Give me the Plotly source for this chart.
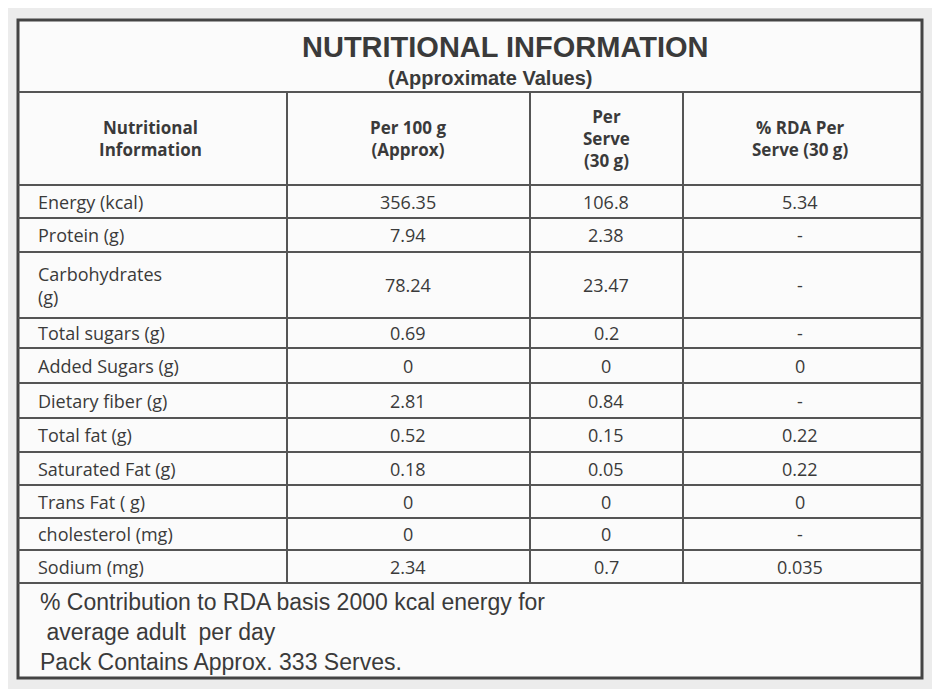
import plotly.graph_objects as go

nutrients = ["Energy (kcal)", "Protein (g)", "Carbohydrates<br>(g)", "Total sugars (g)", "Added Sugars (g)",
             "Dietary fiber (g)", "Total fat (g)", "Saturated Fat (g)", "Trans Fat ( g)", "cholesterol (mg)", "Sodium (mg)"]
per100 = ["356.35", "7.94", "78.24", "0.69", "0", "2.81", "0.52", "0.18", "0", "0", "2.34"]
perserve = ["106.8", "2.38", "23.47", "0.2", "0", "0.84", "0.15", "0.05", "0", "0", "0.7"]
rda = ["5.34", "-", "-", "-", "0", "-", "0.22", "0.22", "0", "-", "0.035"]
headers = ["Nutritional<br>Information", "Per 100 g<br>(Approx)", "Per<br>Serve<br>(30 g)", "% RDA Per<br>Serve (30 g)"]
footer = ["% Contribution to RDA basis 2000 kcal energy for", " average adult  per day", "Pack Contains Approx. 333 Serves."]

L, R, T, B = 18, 922, 20, 678
title_b, head_b = 92, 185
row_b = [218, 252, 318, 348, 383, 418, 452, 485, 518, 550, 583]
col_x = [287, 530, 683]
col_c = [150, 408, 606, 800]
ink = "#3a3a3a"

fig = go.Figure()
shapes = [dict(type="rect", x0=L, x1=R, y0=T, y1=B, line=dict(color="#444", width=3), fillcolor="#fbfbfb", layer="below")]
for y in [title_b, head_b] + row_b:
    shapes.append(dict(type="line", x0=L, x1=R, y0=y, y1=y, line=dict(color="#555", width=2)))
for x in col_x:
    shapes.append(dict(type="line", x0=x, x1=x, y0=title_b, y1=row_b[-1], line=dict(color="#555", width=2)))

ann = [dict(x=505, y=47, text="<b>NUTRITIONAL INFORMATION</b>", font=dict(size=29, color=ink, family="Liberation Sans")),
       dict(x=490, y=78, text="<b>(Approximate Values)</b>", font=dict(size=20, color=ink, family="Liberation Sans"))]
for c, h in zip(col_c, headers):
    ann.append(dict(x=c, y=(title_b + head_b) / 2, text="<b>" + h.replace("<br>", "</b><br><b>") + "</b>",
                    font=dict(size=17, color=ink, family="Open Sans")))
tops = [head_b] + row_b[:-1]
for i in range(len(nutrients)):
    yc = (tops[i] + row_b[i]) / 2
    ann.append(dict(x=36, y=yc, text=nutrients[i], xanchor="left", align="left", font=dict(size=18, color=ink, family="Open Sans")))
    for c, v in zip(col_c[1:], [per100[i], perserve[i], rda[i]]):
        ann.append(dict(x=c, y=yc, text=v, font=dict(size=18, color=ink, family="Open Sans")))
for j, t in enumerate(footer):
    ann.append(dict(x=38, y=602 + 30 * j, text=t, xanchor="left", font=dict(size=23, color=ink, family="Liberation Sans")))
for a in ann:
    a.update(xref="x", yref="y", showarrow=False)

fig.update_layout(width=940, height=689, margin=dict(l=0, r=0, t=0, b=0),
                  paper_bgcolor="#ececec", plot_bgcolor="#ececec", shapes=shapes, annotations=ann,
                  xaxis=dict(range=[8, 948], visible=False), yaxis=dict(range=[697, 8], visible=False),
                  showlegend=False)
fig.write_html("out.html")
